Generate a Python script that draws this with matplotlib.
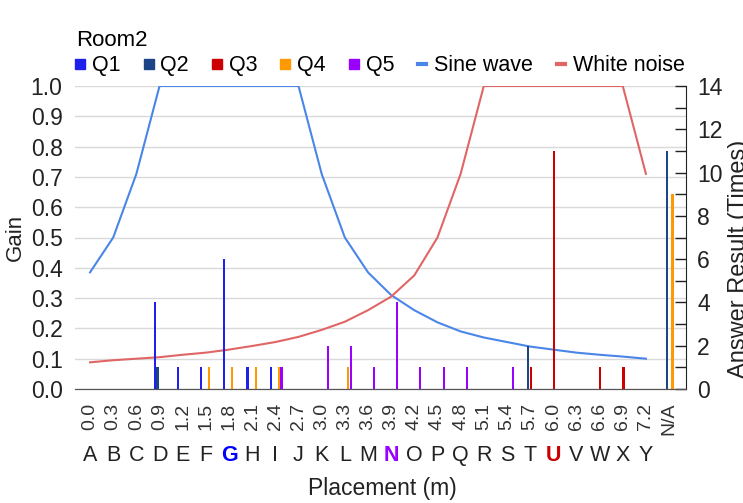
import numpy as np
import matplotlib
matplotlib.use("Agg")
import matplotlib.pyplot as plt
from matplotlib.lines import Line2D
from matplotlib.transforms import blended_transform_factory

plt.rcParams['font.family'] = ['Liberation Sans', 'DejaVu Sans']

# placement labels (m) and room points
placements = ['0.0', '0.3', '0.6', '0.9', '1.2', '1.5', '1.8', '2.1', '2.4', '2.7',
              '3.0', '3.3', '3.6', '3.9', '4.2', '4.5', '4.8', '5.1', '5.4', '5.7',
              '6.0', '6.3', '6.6', '6.9', '7.2', 'N/A']
letters = list('ABCDEFGHIJKLMNOPQRSTUVWXY')
highlight = {'G': '#0000ff', 'N': '#9900ff', 'U': '#cc0000'}

# gain curves (A..Y)
sine_wave = [0.385, 0.5, 0.71, 1.0, 1.0, 1.0, 1.0, 1.0, 1.0, 1.0,
             0.71, 0.5, 0.385, 0.31, 0.26, 0.22, 0.19, 0.17, 0.155, 0.14,
             0.13, 0.12, 0.113, 0.107, 0.10]
white_noise = [0.088, 0.095, 0.10, 0.105, 0.113, 0.12, 0.13, 0.142, 0.155, 0.172,
               0.195, 0.222, 0.26, 0.305, 0.375, 0.5, 0.71, 1.0, 1.0, 1.0,
               1.0, 1.0, 1.0, 1.0, 0.71]

# answer counts per question (A..Y, N/A)
q1 = [0, 0, 0, 4, 1, 1, 6, 1, 1, 0, 0, 0, 0, 0, 0, 0, 0, 0, 0, 0, 0, 0, 0, 0, 0, 0]
q2 = [0, 0, 0, 1, 0, 0, 0, 0, 0, 0, 0, 0, 0, 0, 0, 0, 0, 0, 0, 2, 0, 0, 0, 0, 0, 11]
q3 = [0, 0, 0, 0, 0, 0, 0, 0, 0, 0, 0, 0, 0, 0, 0, 0, 0, 0, 0, 1, 11, 0, 1, 1, 0, 0]
q4 = [0, 0, 0, 0, 0, 1, 1, 1, 1, 0, 0, 1, 0, 0, 0, 0, 0, 0, 0, 0, 0, 0, 0, 0, 0, 9]
q5 = [0, 0, 0, 0, 0, 0, 0, 0, 1, 0, 2, 2, 1, 4, 1, 1, 1, 0, 1, 0, 0, 0, 0, 0, 0, 0]

questions = [('Q1', q1, '#1f1fee'), ('Q2', q2, '#1c4587'), ('Q3', q3, '#cc0000'),
             ('Q4', q4, '#ff9900'), ('Q5', q5, '#9900ff')]
sine_col = '#4a86e8'
noise_col = '#e06666'

fig = plt.figure(figsize=(7.43, 5.03), dpi=100)
ax = fig.add_axes([75 / 743, 114 / 503, 611 / 743, 303 / 503])
ax2 = ax.twinx()

x = np.arange(len(placements))
xl = np.arange(len(letters))

ax.plot(xl, sine_wave, color=sine_col, lw=1.5, zorder=3)
ax.plot(xl, white_noise, color=noise_col, lw=1.5, zorder=3)

slot = 0.117
for k, (name, vals, col) in enumerate(questions):
    ax2.bar(x + (k - 2) * slot + 0.03, vals, width=0.09, color=col, zorder=2)

ax.set_ylim(0, 1)
ax.set_yticks(np.arange(0, 1.01, 0.1))
ax.set_yticklabels([f'{v:.1f}' for v in np.arange(0, 1.01, 0.1)])
ax.set_xlim(-0.65, 25.73)
ax2.set_ylim(0, 14)
ax2.set_yticks(np.arange(0, 15, 2))
ax2.set_yticks(np.arange(1, 15, 2), minor=True)

ax.grid(axis='y', color='#d9d9d9', lw=1)
ax.set_axisbelow(True)

for a in (ax, ax2):
    for s in ('top', 'left'):
        a.spines[s].set_visible(False)
ax.spines['right'].set_visible(False)
ax2.spines['right'].set_color('#222222')
ax2.spines['bottom'].set_color('#555555')
ax.spines['bottom'].set_color('#555555')

ax.tick_params(axis='y', length=0, pad=9, labelsize=16.5, labelcolor='#222222')
ax2.tick_params(axis='y', which='both', direction='in', length=8, width=1,
                color='#222222', pad=8, labelsize=16.5, labelcolor='#222222')

ax.set_xticks(x)
ax.set_xticklabels(placements, rotation=90, fontsize=14, color='#333333')
ax.tick_params(axis='x', length=0, pad=10)

trans = blended_transform_factory(ax.transData, ax.transAxes)
for i, letter in enumerate(letters):
    col = highlight.get(letter, '#222222')
    ax.text(i, -0.22, letter, transform=trans, ha='center', va='center',
            fontsize=15.5, color=col, fontweight='bold' if letter in highlight else 'normal')

ax.set_ylabel('Gain', fontsize=16, color='#222222')
ax.yaxis.set_label_coords(-0.08, 0.5)
ax2.set_ylabel('Answer Result (Times)', fontsize=17, color='#222222')
ax2.yaxis.set_label_coords(1.068, 0.43)
fig.text(382 / 743, 1 - 488 / 503, 'Placement (m)', ha='center', va='center',
         fontsize=16.5, color='#222222')

handles = [Line2D([], [], ls='none', marker='s', ms=6.5, color=c) for _, _, c in questions]
handles += [Line2D([], [], color=sine_col, lw=3), Line2D([], [], color=noise_col, lw=3)]
labels = [q[0] for q in questions] + ['Sine wave', 'White noise']
fig.legend(handles, labels, title='Room2', ncol=7, loc='upper left',
           bbox_to_anchor=(76 / 743, 1 - 30 / 503), frameon=False,
           fontsize=15.5, title_fontsize=16, handlelength=0.4,
           handletextpad=0.35, columnspacing=1.1, borderpad=0,
           borderaxespad=0, alignment='left', labelspacing=0.2)

fig.savefig('out.png', dpi=100)
